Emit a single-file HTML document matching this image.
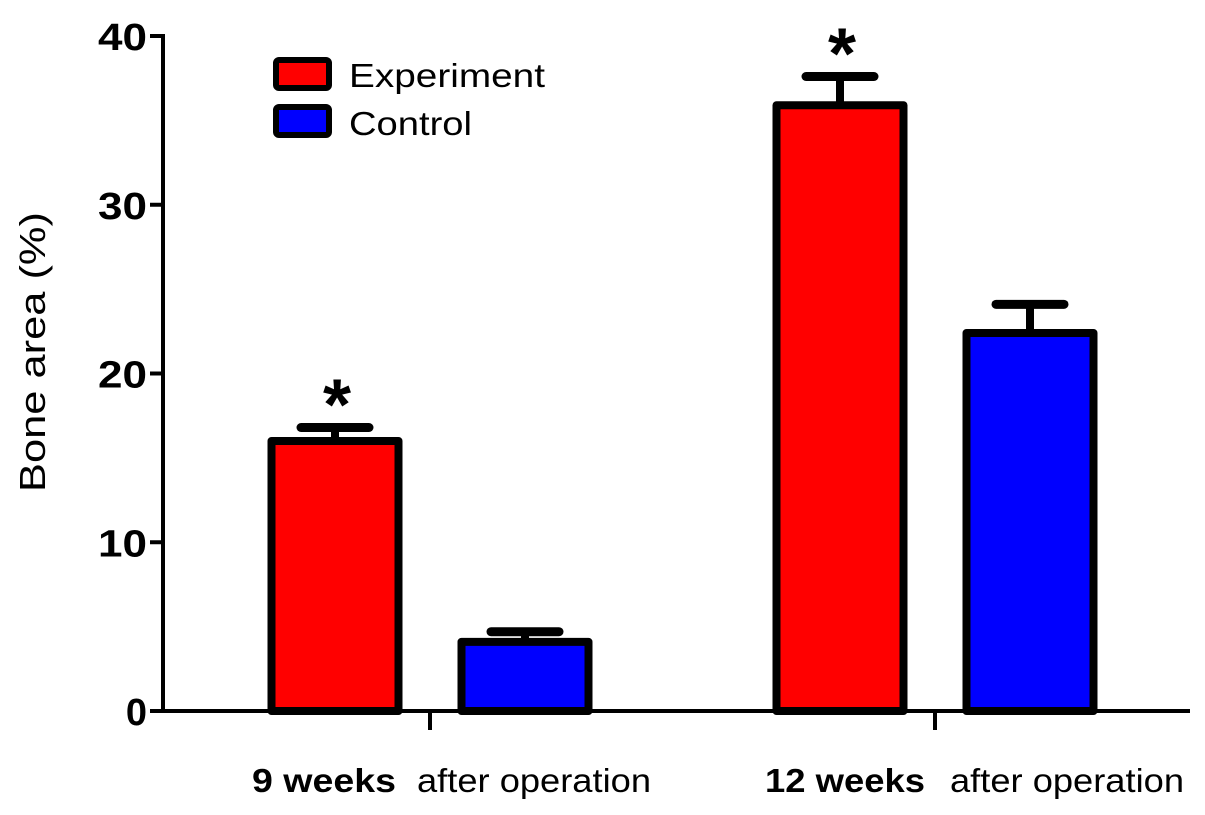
<!DOCTYPE html>
<html><head><meta charset="utf-8"><style>
html,body{margin:0;padding:0;background:#fff;}
svg{display:block;font-family:"Liberation Sans",Arial,sans-serif;}
</style></head><body>
<svg id="chart" width="1205" height="815" viewBox="0 0 1205 815">
<g id="axes"></g>
<g id="bars"></g>
<text x="0" y="0" transform="translate(45,352) rotate(-90)" text-anchor="middle" font-size="36" textLength="280" lengthAdjust="spacingAndGlyphs" fill="#000">Bone area (%)</text>
<g>
<rect x="276" y="60" width="53" height="28" rx="3" fill="#ff0000" stroke="#000" stroke-width="6"/>
<text x="349" y="87" font-size="33" textLength="196" lengthAdjust="spacingAndGlyphs">Experiment</text>
<rect x="276" y="107" width="53" height="28" rx="3" fill="#0000ff" stroke="#000" stroke-width="6"/>
<text x="349" y="135" font-size="33" textLength="123" lengthAdjust="spacingAndGlyphs">Control</text>
</g>
</svg>
<script>
const groups = ["9 weeks", "12 weeks"];
const experiment = [16.0, 35.9];
const experimentErr = [0.8, 1.7];
const control = [4.1, 22.4];
const controlErr = [0.6, 1.7];
const yTicks = [0, 10, 20, 30, 40];
const significant = [true, true];

const NS = "http://www.w3.org/2000/svg";
const y0 = 711, yTop = 36, yMax = 40;
const yScale = v => y0 - (y0 - yTop) * v / yMax;
const groupX = i => 430 + i * 505;
function mk(tag, attrs, parent){const e=document.createElementNS(NS,tag);for(const k in attrs)e.setAttribute(k,attrs[k]);parent.appendChild(e);return e;}
const axes = document.getElementById('axes');
const bars = document.getElementById('bars');

let l = mk('line',{x1:163,y1:yTop-2,x2:163,y2:y0+2,stroke:'#000','stroke-width':4},axes);


l = mk('line',{x1:161,y1:y0,x2:1190,y2:y0,stroke:'#000','stroke-width':4},axes);


yTicks.forEach(t=>{
  const y=yScale(t);
  const tk=mk('line',{x1:150,y1:y,x2:165,y2:y,stroke:'#000','stroke-width':4},axes);
  
  
  const attrs={x:147,y:y+14,'text-anchor':'end','font-size':38,'font-weight':'bold'};
  if(String(t).length===2){attrs.textLength=49;attrs.lengthAdjust='spacingAndGlyphs';}
  const tx=mk('text',attrs,axes);
  tx.textContent=t;
  
  
});
groups.forEach((g,i)=>{
  const cx=groupX(i);
  const tk=mk('line',{x1:cx,y1:y0,x2:cx,y2:730,stroke:'#000','stroke-width':4},axes);
  
  
  const w1 = g.length>7 ? 160 : 144;
  const endOff = i ? -10 : -34;
  const startOff = i ? 15 : -13;
  const tx=mk('text',{x:cx+endOff,y:792,'text-anchor':'end','font-size':33,'font-weight':'bold',textLength:w1,lengthAdjust:'spacingAndGlyphs'},axes);
  tx.textContent=g;
  
  
  const t2=mk('text',{x:cx+startOff,y:792,'font-size':33,textLength:234,lengthAdjust:'spacingAndGlyphs'},axes);
  t2.textContent='after operation';
  
  
});
function drawBar(cx,v,err,color,name){
  const yv=yScale(v), ye=yScale(v+err), w=127;
  const eb=mk('line',{x1:cx,y1:yv,x2:cx,y2:ye,stroke:'#000','stroke-width':8},bars);
  
  
  const cap=mk('line',{x1:cx-34,y1:ye,x2:cx+34,y2:ye,stroke:'#000','stroke-width':9,'stroke-linecap':'round'},bars);
  
  
  const r=mk('rect',{x:cx-w/2,y:yv,width:w,height:y0-yv,fill:color,stroke:'#000','stroke-width':8,'stroke-linejoin':'round'},bars);
  
  
}
groups.forEach((g,i)=>{
  const cx=groupX(i);
  drawBar(cx-95,experiment[i],experimentErr[i],'#ff0000','bar-experiment-'+(i+1));
  drawBar(cx+95,control[i],controlErr[i],'#0000ff','bar-control-'+(i+1));
  if(significant[i]){
    const s=mk('text',{x:cx-93,y:yScale(experiment[i]+experimentErr[i])+2,'text-anchor':'middle','font-size':72,'font-weight':'bold'},bars);
    s.textContent='*';
    
    
  }
});
</script>
</body></html>
